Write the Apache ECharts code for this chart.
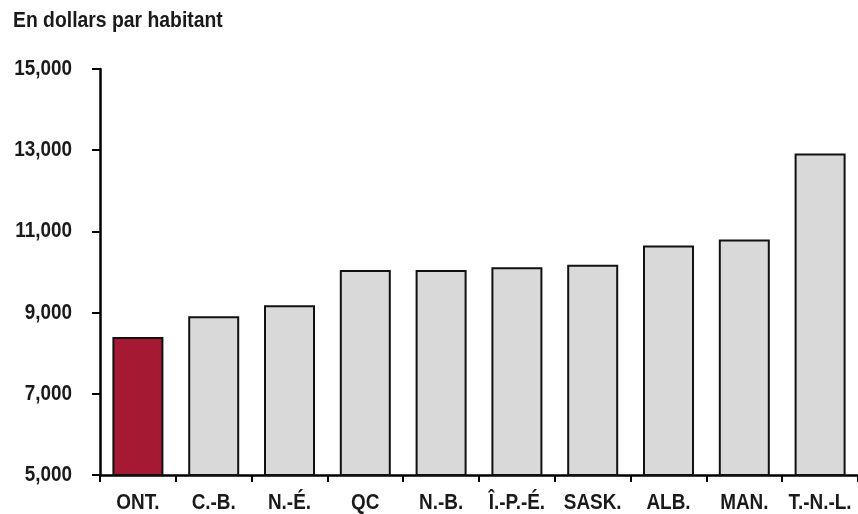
<!DOCTYPE html>
<html>
<head>
<meta charset="utf-8">
<script src="https://cdn.jsdelivr.net/npm/echarts@6/dist/echarts.min.js"></script>
<style>
  html, body { margin: 0; padding: 0; background: #fff; }
  #chart { width: 858px; height: 514px; }
</style>
</head>
<body>
<div id="chart"></div>
<script>
// Provinces, sorted by per-capita amount
const provinces = ['ONT.', 'C.-B.', 'N.-É.', 'QC', 'N.-B.', 'Î.-P.-É.', 'SASK.', 'ALB.', 'MAN.', 'T.-N.-L.'];
const perCapita = [8400, 8910, 9180, 10050, 10050, 10120, 10180, 10650, 10800, 12920];
const yTicks = [5000, 7000, 9000, 11000, 13000, 15000];
const unitLabel = 'En dollars par habitant';

const highlight = 'ONT.';

// Condensed bold lettering: a sans bold face squeezed horizontally
const FONT_FAMILY = '"Liberation Sans", Arial, sans-serif';
const FONT_SIZE = 22;
const SQUEEZE = 0.86;
const TEXT_COLOR = '#1a1a1a';

const GRID = { left: 100, top: 69, width: 762, height: 406 };

const chart = echarts.init(document.getElementById('chart'), null, { renderer: 'canvas' });

chart.setOption({
  animation: false,
  backgroundColor: '#ffffff',
  grid: Object.assign({ containLabel: false }, GRID),
  xAxis: {
    type: 'category',
    data: provinces,
    axisLine: { lineStyle: { color: '#000', width: 2.5 } },
    axisTick: { show: true, length: 7, inside: false, lineStyle: { color: '#000', width: 2 } },
    axisLabel: { show: false }
  },
  yAxis: {
    type: 'value',
    min: yTicks[0],
    max: yTicks[yTicks.length - 1],
    interval: yTicks[1] - yTicks[0],
    axisLine: { show: true, lineStyle: { color: '#000', width: 2.5 } },
    axisTick: { show: true, length: 8, lineStyle: { color: '#000', width: 2 } },
    splitLine: { show: false },
    axisLabel: { show: false }
  },
  series: [{
    type: 'bar',
    barWidth: 51,
    data: perCapita.map((v, i) => ({
      value: v,
      itemStyle: {
        color: provinces[i] === highlight ? '#a51a32' : '#d9d9d9',
        borderColor: '#111',
        borderWidth: 2
      }
    }))
  }]
});

// Text drawn as graphic elements so it can be condensed; positions come from the axes.
function label(text, x, y, align, scaleX) {
  return {
    type: 'text',
    x: x,
    y: y,
    scaleX: scaleX || SQUEEZE,
    silent: true,
    style: {
      text: text,
      fill: TEXT_COLOR,
      fontFamily: FONT_FAMILY,
      fontWeight: 'bold',
      fontSize: FONT_SIZE,
      align: align,
      verticalAlign: 'middle'
    }
  };
}

const elements = [];
elements.push(label(unitLabel, 13, 21, 'left', 0.88));

yTicks.forEach(v => {
  const y = chart.convertToPixel({ yAxisIndex: 0 }, v);
  elements.push(label(v.toLocaleString('en-US'), GRID.left - 28, y, 'right'));
});

const xLabelY = GRID.top + GRID.height + 28;
provinces.forEach(p => {
  const x = chart.convertToPixel({ xAxisIndex: 0 }, p);
  elements.push(label(p, x, xLabelY, 'center'));
});

chart.setOption({ graphic: { elements: elements } });
</script>
</body>
</html>
